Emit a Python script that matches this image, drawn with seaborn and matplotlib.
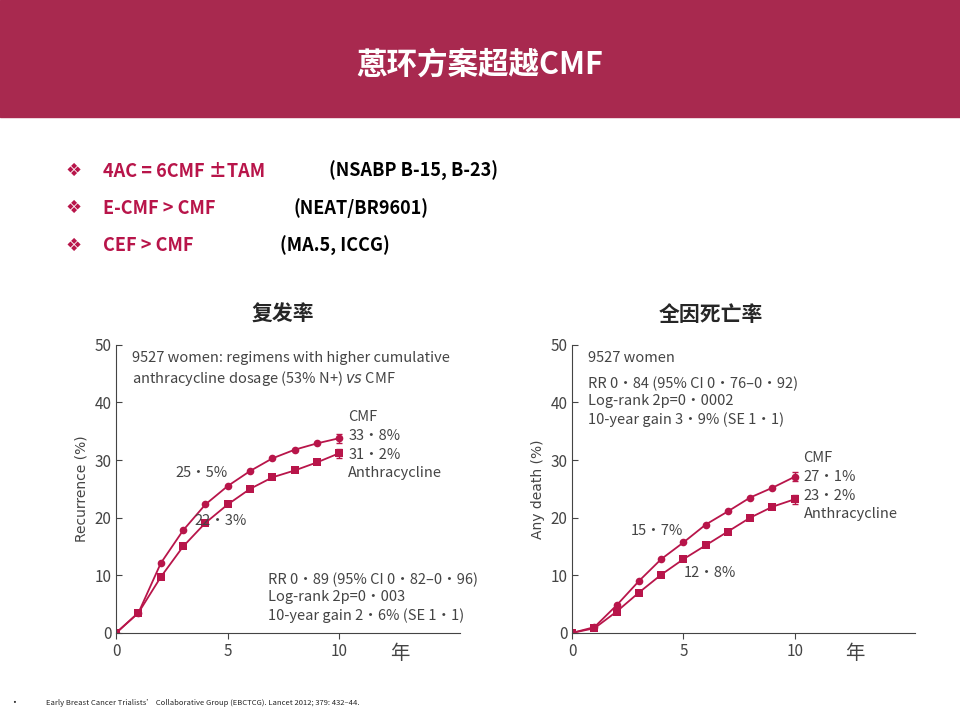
import numpy as np
import pandas as pd
import seaborn as sns
import matplotlib.pyplot as plt
from matplotlib.patches import Rectangle

years = list(range(11))
rec_cmf = [0, 3.5, 12.1, 17.8, 22.3, 25.5, 28.1, 30.3, 31.8, 32.9, 33.8]
rec_anth = [0, 3.5, 9.7, 15.0, 19.1, 22.3, 25.0, 27.0, 28.2, 29.6, 31.2]
death_cmf = [0, 1.0, 4.8, 9.0, 12.8, 15.7, 18.8, 21.1, 23.5, 25.2, 27.1]
death_anth = [0, 0.8, 3.7, 7.0, 10.1, 12.8, 15.2, 17.6, 20.0, 21.9, 23.2]
yticks = [0, 10, 20, 30, 40, 50]
xticks = [0, 5, 10]

sns.set_style("ticks")
plt.rcParams['font.family'] = ['Noto Sans CJK SC', 'DejaVu Sans']
RED = "#B8154A"
GREY = "#444444"

fig = plt.figure(figsize=(9.6, 7.2), dpi=100)
fig.patches.append(Rectangle((0, 0.838), 1, 0.162, transform=fig.transFigure, color="#A8294F", zorder=0))
fig.text(0.5, 0.91, "蒽环方案超越CMF", color="white", fontsize=22, fontweight="bold", ha="center", va="center")

bullets = [("4AC = 6CMF ±TAM", "(NSABP B-15, B-23)", 0.343),
           ("E-CMF > CMF", "(NEAT/BR9601)", 0.306),
           ("CEF > CMF", "(MA.5, ICCG)", 0.292)]
for i, (a, b, bx) in enumerate(bullets):
    y = 0.762 - i * 0.0515
    fig.text(0.068, y, "❖", color=RED, fontsize=13, va="center", family=['DejaVu Sans'])
    fig.text(0.107, y, a, color=RED, fontsize=13, fontweight="bold", va="center")
    fig.text(bx, y, b, color="black", fontsize=13, fontweight="bold", va="center")

fig.text(0.295, 0.563, "复发率", fontsize=15, fontweight="bold", ha="center", va="center")
fig.text(0.741, 0.563, "全因死亡率", fontsize=15, fontweight="bold", ha="center", va="center")
fig.text(0.01, 0.023, "•", fontsize=7, va="center")
fig.text(0.048, 0.023, "Early Breast Cancer Trialists’ Collaborative Group (EBCTCG). Lancet 2012; 379: 432–44.",
         fontsize=5.5, va="center")


def panel(rect, cmf, anth, ylabel):
    ax = fig.add_axes(rect)
    df = pd.DataFrame({"year": years * 2, "val": cmf + anth,
                       "arm": ["CMF"] * 11 + ["Anthracycline"] * 11})
    sns.lineplot(data=df, x="year", y="val", hue="arm", style="arm",
                 markers={"CMF": "o", "Anthracycline": "s"}, dashes=False,
                 palette={"CMF": RED, "Anthracycline": RED}, markersize=5.5,
                 markeredgewidth=0, linewidth=1.3, legend=False, ax=ax)
    ax.errorbar([10, 10], [cmf[-1], anth[-1]], yerr=0.8, fmt="none", ecolor=RED, capsize=2, lw=1)
    ax.set_xlim(0, 15.4)
    ax.set_ylim(0, 50)
    ax.set_xticks(xticks)
    ax.set_yticks(yticks)
    ax.tick_params(labelsize=11, colors=GREY, length=4, direction="in")
    ax.tick_params(axis="x", direction="out")
    ax.set_xlabel("")
    ax.set_ylabel(ylabel, fontsize=10, color=GREY, family=['Liberation Sans Narrow', 'DejaVu Sans'])
    for s in ["top", "right"]:
        ax.spines[s].set_visible(False)
    for s in ["left", "bottom"]:
        ax.spines[s].set_color(GREY)
    ax.text(12.7, -3.5, "年", fontsize=14, color=GREY, ha="center", va="center")
    return ax


kw = dict(fontsize=10.5, color=GREY)
ax1 = panel([0.121, 0.121, 0.358, 0.4], rec_cmf, rec_anth, "Recurrence (%)")
ax1.text(0.7, 49, "9527 women: regimens with higher cumulative\nanthracycline dosage (53% N+) $\\it{vs}$ CMF",
         va="top", linespacing=1.3, **kw)
ax1.text(10.4, 37.5, "CMF", va="center", **kw)
ax1.text(10.4, 34.2, "33·8%", va="center", **kw)
ax1.text(10.4, 30.9, "31·2%", va="center", **kw)
ax1.text(10.4, 27.8, "Anthracycline", va="center", **kw)
ax1.text(5, 27.8, "25·5%", ha="right", va="center", **kw)
ax1.text(3.5, 19.4, "22·3%", va="center", **kw)
ax1.text(6.8, 10.5, "RR 0·89 (95% CI 0·82–0·96)\nLog-rank 2p=0·003\n10-year gain 2·6% (SE 1·1)",
         va="top", linespacing=1.3, **kw)

ax2 = panel([0.596, 0.121, 0.357, 0.4], death_cmf, death_anth, "Any death (%)")
ax2.text(0.7, 49, "9527 women", va="top", **kw)
ax2.text(0.7, 44.5, "RR 0·84 (95% CI 0·76–0·92)\nLog-rank 2p=0·0002\n10-year gain 3·9% (SE 1·1)",
         va="top", linespacing=1.3, **kw)
ax2.text(10.4, 30.3, "CMF", va="center", **kw)
ax2.text(10.4, 27.0, "27·1%", va="center", **kw)
ax2.text(10.4, 23.7, "23·2%", va="center", **kw)
ax2.text(10.4, 20.6, "Anthracycline", va="center", **kw)
ax2.text(5, 17.7, "15·7%", ha="right", va="center", **kw)
ax2.text(5, 10.4, "12·8%", va="center", **kw)

fig.savefig("out.png", dpi=100)
